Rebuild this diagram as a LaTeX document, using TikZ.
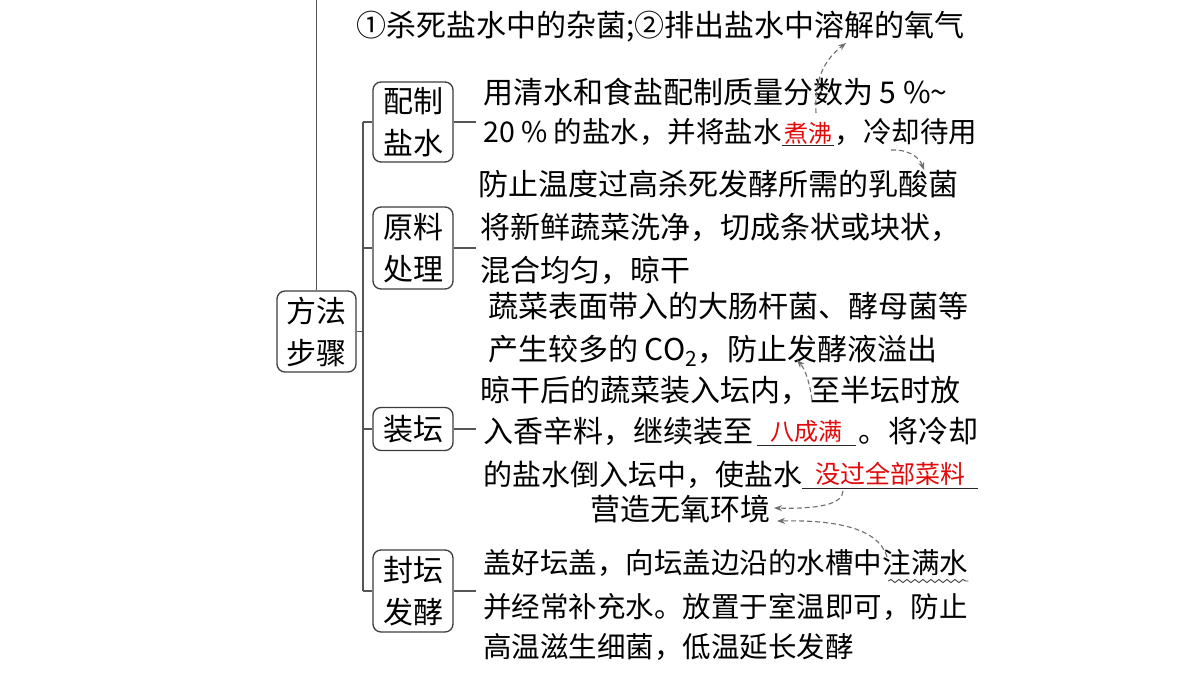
\documentclass[tikz,border=0pt]{standalone}
\usepackage{fontspec}
\setmainfont{Noto Sans CJK SC}
\usetikzlibrary{arrows.meta,decorations.pathmorphing,calc}
\definecolor{boxc}{RGB}{60,60,60}
\definecolor{connc}{RGB}{85,85,85}
\definecolor{arrc}{RGB}{110,110,110}
\definecolor{redt}{RGB}{225,10,10}
\newcommand{\fsz}[1]{\fontsize{#1}{#1}\selectfont}
\begin{document}
\begin{tikzpicture}[x=1pt,y=-1pt,
  txt/.style={anchor=base west, inner sep=0pt, font=\fsz{30}},
  redw/.style={anchor=base west, inner xsep=0pt, inner ysep=0pt, text=redt, font=\fsz{24}},
  box/.style={draw=boxc, line width=1.3pt, rounded corners=8pt, minimum width=80pt, inner sep=0pt, align=center, font=\fontsize{30}{42}\selectfont},
  conn/.style={draw=connc, line width=1.5pt},
  uline/.style={draw=black!85, line width=1pt},
  dasharr/.style={draw=arrc, line width=1.1pt, dash pattern=on 5pt off 3pt, -{Stealth[length=8pt,width=6pt]}}]
\useasboundingbox (0,0) rectangle (1200,675);
\fill[white] (0,0) rectangle (1200,675);

% boxes
\node[box, minimum width=79pt, minimum height=81pt] (ff) at (316.5,331.5) {方法\\步骤};
\node[box, minimum height=80pt] (pz) at (413,122) {配制\\盐水};
\node[box, minimum height=82pt] (yl) at (413,248) {原料\\处理};
\node[box, minimum height=43pt] (zt) at (413,429) {装坛};
\node[box, minimum height=82pt] (ft) at (413,591) {封坛\\发酵};

% tree lines
\coordinate (topend) at (318,0);
\coordinate (bx) at (363,0);
\draw[conn] (ff.north) -- (ff.north |- topend);
\draw[conn] (ff.east) -- (ff.east -| bx);
\draw[conn] (pz.west -| bx) -- (ft.west -| bx);
\draw[conn] (pz.west -| bx) -- (pz.west);
\draw[conn] (yl.west -| bx) -- (yl.west);
\draw[conn] (zt.west -| bx) -- (zt.west);
\draw[conn] (ft.west -| bx) -- (ft.west);
\draw[conn] (pz.east) -- ++(22,0);
\draw[conn] (yl.east) -- ++(22,0);
\draw[conn] (zt.east) -- ++(22,0);
\draw[conn] (ft.east) -- ++(22,0);

% texts
\node[txt] (top) at (356,36) {①杀死盐水中的杂菌;②排出盐水中溶解的氧气};

\node[txt] (a1) at (483,103) {用清水和食盐配制质量分数为 5 \%\textasciitilde};
\node[txt, font=\fsz{28.5}] (a2) at (483,142) {20 \% 的盐水，并将盐水};
\node[redw, inner xsep=2pt] (zf) at (a2.base east) {煮沸};
\draw[uline] ($(zf.base west)+(0,3)$) -- ($(zf.base east)+(0,3)$);
\node[txt, font=\fsz{28.5}] (a3) at (zf.base east) {，冷却待用};

\node[txt] (an1) at (478,195) {防止温度过高杀死发酵所需的乳酸菌};

\node[txt] (b1) at (480,238) {将新鲜蔬菜洗净，切成条状或块状，};
\node[txt] (b2) at (480,281) {混合均匀，晾干};

\node[txt] (an2a) at (488,317) {蔬菜表面带入的大肠杆菌、酵母菌等};
\node[txt] (an2b) at (488,360) {产生较多的 CO\textsubscript{2}，防止发酵液溢出};

\node[txt] (c1) at (480,401) {晾干后的蔬菜装入坛内，至半坛时放};
\node[txt] (c2) at (483,442) {入香辛料，继续装至};
\node[redw, minimum width=99pt] (bc) at (757,440) {八成满};
\draw[uline] ($(bc.base west)+(0,5)$) -- ($(bc.base east)+(0,5)$);
\node[txt] (c2b) at (858,442) {。将冷却};
\node[txt, font=\fsz{29}] (c3) at (483,485) {的盐水倒入坛中，使盐水};
\node[redw, minimum width=176pt, font=\fsz{25}] (mg) at (802,483) {没过全部菜料};
\draw[uline] ($(mg.base west)+(0,5)$) -- ($(mg.base east)+(0,5)$);

\node[txt] (an3) at (590,520) {营造无氧环境};

\node[txt, font=\fsz{28.5}] (d1a) at (483,573) {盖好坛盖，向坛盖边沿的水槽中};
\node[txt, font=\fsz{28.5}] (d1b) at (d1a.base east) {注满水};
\draw[draw=black!75, line width=0.9pt, decorate, decoration={snake, amplitude=1.6pt, segment length=8pt}]
  ($(d1b.base west)+(6,8)$) -- ($(d1b.base east)+(0,8)$);
\node[txt, font=\fsz{28.5}] (d2) at (483,617) {并经常补充水。放置于室温即可，防止};
\node[txt, font=\fsz{28.5}] (d3) at (483,657) {高温滋生细菌，低温延长发酵};

% dashed arrows
\coordinate (s1) at (816,113);
\coordinate (e1) at (846,43);
\draw[dasharr] (s1) .. controls (814,80) and (824,60) .. (e1);
\coordinate (s2) at (891,150);
\coordinate (e2) at (924,170);
\draw[dasharr] (s2) .. controls (906,149) and (919,156) .. (e2);
\coordinate (s3) at (812,400);
\coordinate (e3) at (797,360);
\draw[dasharr] (s3) .. controls (810,385) and (806,370) .. (e3);
\coordinate (s4) at (843,491);
\coordinate (e4) at (774,508);
\draw[dasharr] (s4) .. controls (843,505) and (815,509) .. (e4);
\coordinate (s5) at (887,557);
\coordinate (e5) at (777,521);
\draw[dasharr] (s5) .. controls (878,526) and (830,520) .. (e5);
\end{tikzpicture}
\end{document}
